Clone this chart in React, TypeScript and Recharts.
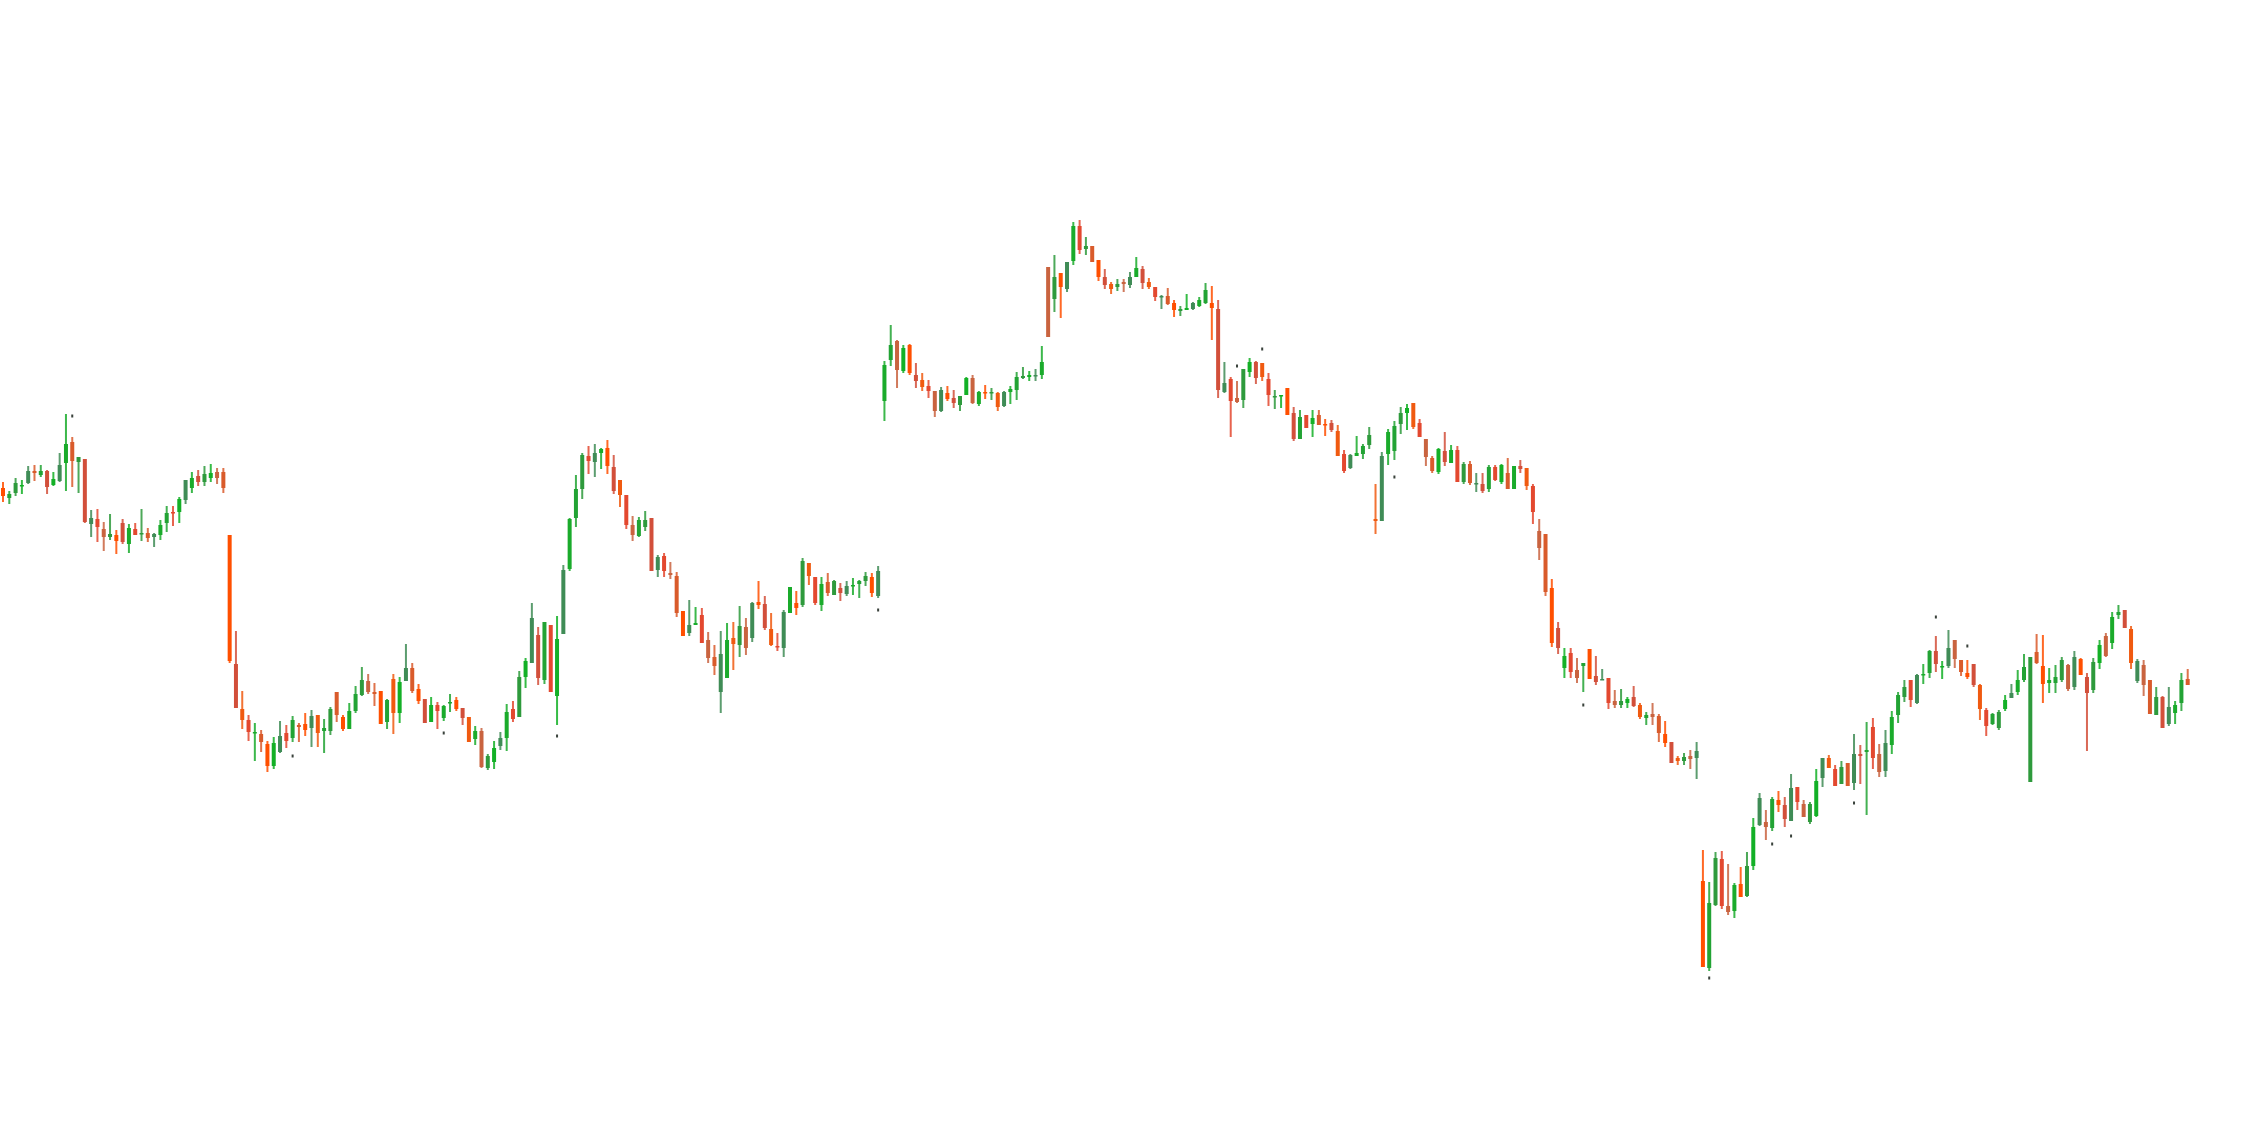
import { BarChart, Bar, XAxis, YAxis } from 'recharts';

// price, one entry per session (index = session number)
const open = [
  660, 650, 655, 662, 665, 677, 673, 677, 663, 667,
  685, 706, 686, 689, 624, 629, 619, 611, 613, 625,
  604, 619, 614, 615, 611, 613, 625, 636, 636, 648,
  660, 672, 666, 670, 676, 676, 613, 484, 439, 428,
  415, 414, 404, 382, 396, 415, 410, 423, 424, 420,
  433, 417, 417, 456, 431, 419, 437, 453, 467, 456,
  457, 426, 469, 435, 467, 480, 459, 449, 426, 443,
  430, 445, 448, 440, 431, 409, 417, 380, 386, 402,
  410, 439, 431, 471, 485, 513, 468, 523, 452, 514,
  579, 630, 659, 692, 686, 695, 700, 681, 668, 653,
  623, 612, 621, 630, 578, 592, 575, 572, 537, 515,
  523, 533, 508, 491, 456, 470, 510, 503, 521, 510,
  546, 544, 519, 502, 500, 535, 545, 543, 585, 571,
  543, 566, 553, 560, 554, 562, 564, 567, 571, 552,
  747, 788, 807, 777, 803, 773, 768, 762, 757, 737,
  755, 750, 743, 753, 770, 744, 756, 755, 755, 742,
  756, 758, 770, 771, 772, 773, 881, 849, 875, 859,
  887, 922, 899, 902, 888, 871, 864, 861, 866, 863,
  871, 879, 866, 861, 851, 852, 845, 837, 838, 839,
  842, 845, 845, 839, 756, 769, 750, 748, 776, 786,
  785, 769, 751, 752, 760, 735, 709, 733, 724, 733,
  724, 725, 717, 694, 680, 692, 694, 703, 629, 627,
  694, 697, 724, 735, 745, 725, 709, 690, 676, 697,
  685, 698, 666, 684, 664, 664, 659, 681, 666, 675,
  659, 682, 680, 662, 617, 614, 560, 520, 480, 495,
  478, 482, 499, 472, 468, 470, 447, 443, 445, 451,
  443, 430, 434, 432, 414, 406, 390, 387, 392, 390,
  267, 180, 243, 289, 242, 237, 264, 252, 282, 323,
  326, 320, 348, 343, 327, 361, 344, 326, 332, 370,
  390, 379, 364, 385, 365, 394, 396, 421, 394, 377,
  403, 433, 451, 468, 445, 473, 475, 497, 481, 482,
  508, 488, 475, 484, 463, 438, 424, 420, 439, 450,
  456, 468, 366, 496, 482, 465, 465, 468, 483, 461,
  489, 471, 458, 485, 512, 505, 533, 538, 519, 467,
  483, 468, 433, 451, 424, 435, 445, 469,
];

const high = [
  666, 657, 670, 668, 682, 683, 683, 678, 676, 695,
  734, 711, 691, 689, 638, 639, 626, 634, 618, 629,
  624, 625, 639, 620, 615, 628, 642, 642, 651, 668,
  676, 678, 682, 684, 680, 680, 613, 517, 457, 433,
  425, 418, 407, 411, 427, 423, 432, 425, 435, 438,
  433, 429, 441, 456, 433, 445, 462, 481, 474, 465,
  457, 449, 474, 471, 504, 485, 464, 449, 451, 446,
  443, 454, 451, 440, 431, 422, 420, 394, 407, 416,
  444, 447, 477, 490, 545, 521, 526, 523, 532, 583,
  630, 673, 695, 702, 704, 700, 708, 693, 668, 653,
  632, 631, 637, 630, 593, 595, 586, 576, 537, 548,
  541, 540, 516, 503, 517, 525, 526, 542, 530, 546,
  567, 552, 535, 515, 538, 561, 557, 590, 585, 571,
  571, 575, 568, 565, 567, 570, 568, 576, 575, 582,
  787, 823, 808, 803, 804, 785, 775, 768, 757, 761,
  762, 758, 752, 771, 773, 757, 763, 760, 756, 757,
  762, 776, 781, 777, 779, 802, 881, 893, 875, 886,
  926, 928, 911, 902, 888, 879, 866, 869, 869, 876,
  891, 882, 870, 861, 853, 860, 848, 842, 854, 846,
  851, 865, 862, 848, 786, 771, 767, 779, 790, 787,
  785, 775, 758, 753, 760, 741, 738, 733, 738, 738,
  729, 728, 723, 698, 694, 712, 704, 721, 664, 696,
  719, 727, 741, 744, 745, 729, 709, 692, 700, 716,
  703, 702, 686, 687, 675, 675, 683, 683, 684, 690,
  682, 688, 680, 664, 629, 614, 569, 526, 500, 500,
  490, 485, 499, 492, 479, 470, 458, 459, 451, 462,
  445, 436, 445, 434, 427, 406, 392, 395, 398, 406,
  298, 266, 296, 297, 284, 265, 281, 296, 330, 355,
  338, 351, 357, 351, 374, 361, 348, 346, 379, 390,
  393, 383, 387, 385, 414, 403, 426, 430, 404, 418,
  437, 456, 468, 468, 474, 484, 498, 512, 487, 518,
  508, 488, 488, 484, 464, 440, 435, 438, 453, 464,
  478, 494, 491, 514, 513, 480, 483, 491, 484, 497,
  490, 475, 490, 508, 515, 536, 543, 538, 522, 489,
  488, 468, 461, 452, 461, 447, 475, 479,
];

const low = [
  646, 644, 652, 654, 664, 667, 671, 654, 662, 666,
  657, 661, 655, 625, 611, 606, 597, 608, 594, 604,
  595, 613, 607, 606, 601, 608, 616, 622, 625, 644,
  655, 662, 662, 666, 664, 655, 485, 440, 419, 407,
  387, 396, 376, 379, 395, 400, 406, 406, 412, 401,
  401, 395, 413, 426, 417, 419, 435, 452, 454, 442,
  424, 419, 414, 425, 467, 455, 444, 425, 426, 419,
  427, 436, 437, 423, 406, 403, 380, 378, 379, 398,
  397, 426, 431, 460, 485, 463, 464, 456, 423, 514,
  577, 621, 649, 674, 671, 679, 674, 654, 641, 619,
  607, 611, 617, 577, 571, 571, 569, 531, 512, 512,
  523, 505, 485, 473, 435, 470, 478, 491, 493, 506,
  539, 518, 502, 497, 491, 535, 533, 541, 563, 543,
  537, 552, 553, 547, 552, 553, 550, 562, 551, 550,
  727, 782, 760, 775, 773, 760, 757, 750, 731, 736,
  747, 740, 737, 753, 744, 742, 749, 748, 737, 741,
  744, 748, 769, 767, 767, 769, 811, 836, 830, 856,
  883, 894, 893, 886, 867, 859, 854, 857, 856, 860,
  871, 859, 859, 847, 839, 843, 831, 832, 838, 838,
  841, 844, 808, 750, 755, 711, 745, 740, 771, 764,
  767, 742, 739, 740, 733, 707, 709, 720, 711, 723,
  712, 716, 692, 675, 679, 692, 689, 699, 614, 627,
  683, 688, 714, 718, 719, 711, 682, 675, 674, 682,
  685, 666, 664, 663, 656, 655, 656, 667, 664, 659,
  659, 675, 658, 624, 588, 552, 501, 494, 470, 470,
  465, 456, 469, 463, 468, 439, 440, 440, 440, 441,
  429, 423, 423, 406, 401, 385, 383, 383, 379, 369,
  181, 177, 242, 239, 233, 230, 251, 251, 278, 322,
  308, 317, 336, 321, 327, 338, 331, 324, 331, 361,
  380, 362, 364, 362, 358, 364, 333, 379, 371, 371,
  394, 425, 446, 441, 444, 464, 470, 476, 469, 480,
  480, 472, 469, 461, 428, 412, 423, 418, 437, 450,
  453, 466, 366, 484, 445, 455, 455, 466, 457, 458,
  473, 397, 455, 479, 491, 499, 529, 520, 479, 465,
  452, 434, 433, 420, 422, 424, 437, 463,
];

const close = [
  652, 654, 665, 663, 677, 675, 677, 661, 669, 683,
  704, 687, 691, 626, 630, 621, 611, 614, 607, 606,
  620, 613, 615, 610, 614, 623, 635, 635, 649, 668,
  670, 666, 674, 675, 670, 660, 487, 440, 428, 416,
  416, 406, 382, 405, 412, 407, 428, 421, 418, 432,
  415, 420, 439, 433, 419, 437, 454, 468, 456, 454,
  424, 448, 435, 466, 480, 457, 447, 425, 443, 437,
  442, 446, 439, 430, 406, 417, 381, 392, 400, 410,
  436, 429, 471, 487, 530, 470, 526, 456, 509, 578,
  629, 659, 693, 687, 695, 699, 682, 657, 653, 623,
  613, 628, 628, 577, 591, 577, 573, 535, 512, 523,
  525, 505, 490, 482, 494, 508, 504, 522, 500, 545,
  543, 520, 503, 501, 536, 561, 540, 587, 572, 545,
  564, 555, 567, 555, 562, 563, 567, 572, 555, 577,
  783, 803, 778, 800, 775, 767, 761, 757, 737, 758,
  749, 745, 752, 770, 745, 756, 755, 756, 741, 756,
  759, 771, 772, 773, 773, 786, 811, 871, 861, 886,
  922, 898, 902, 886, 871, 863, 859, 864, 864, 871,
  880, 865, 861, 851, 852, 844, 838, 839, 840, 845,
  848, 858, 840, 758, 765, 747, 746, 779, 786, 770,
  771, 753, 752, 753, 733, 709, 731, 720, 730, 723,
  723, 718, 692, 677, 693, 695, 702, 713, 627, 692,
  716, 722, 735, 740, 721, 711, 691, 677, 699, 686,
  698, 666, 684, 665, 665, 657, 681, 668, 683, 659,
  682, 679, 662, 636, 600, 556, 505, 500, 492, 476,
  470, 485, 469, 466, 469, 445, 443, 447, 449, 442,
  431, 433, 431, 415, 405, 385, 387, 391, 389, 397,
  181, 245, 290, 242, 236, 263, 251, 282, 321, 350,
  321, 349, 343, 329, 360, 346, 331, 344, 367, 390,
  380, 362, 381, 362, 394, 392, 398, 390, 376, 405,
  431, 453, 461, 448, 473, 474, 497, 484, 482, 500,
  489, 476, 471, 463, 439, 422, 434, 436, 448, 455,
  468, 481, 491, 485, 464, 468, 471, 488, 459, 491,
  473, 455, 486, 503, 492, 531, 536, 520, 485, 487,
  463, 434, 451, 420, 441, 443, 468, 463,
];

// stray single ticks seen away from the candles
const strayIndex = [11, 46, 70, 88, 139, 196, 200, 221, 251, 271, 281, 284, 294, 307, 312];
const strayValue = [732, 392, 415, 412, 538, 782, 799, 671, 443, 170, 304, 312, 345, 531, 502];

const UP = ['#1aab2b', '#2e9a3c', '#3f8c56', '#22a334', '#13b026'];
const DOWN = ['#ff4f00', '#d95b2b', '#c9633f', '#e3482f', '#f05a10', '#d24f3a'];

const data = open.map((o, i) => {
  const s = strayIndex.indexOf(i);
  return {
    i,
    open: o,
    high: high[i],
    low: low[i],
    close: close[i],
    stray: s >= 0 ? strayValue[s] : null,
  };
});

function Candle(props: any) {
  const { x, y, width, height, payload } = props;
  if (!payload || height == null) return null;
  const { open, high, low, close, stray, i } = payload;
  const ppu = height / (high - low || 1);
  const toY = (v: number) => y + (high - v) * ppu;
  const up = close >= open;
  const color = up ? UP[(i * 3) % UP.length] : DOWN[(i * 5) % DOWN.length];
  const cx = x + width / 2;
  const top = toY(Math.max(open, close));
  const bot = toY(Math.min(open, close));
  return (
    <g>
      <rect x={cx - 1} y={y} width={2} height={Math.max(height, 1)} fill={color} opacity={0.85} />
      <rect x={x} y={top} width={width} height={Math.max(bot - top, 1.5)} fill={color} />
      {stray != null && (
        <rect x={cx - 1} y={toY(stray) - 1.5} width={2} height={3} fill="#3a423c" />
      )}
    </g>
  );
}

export default function App() {
  return (
    <div style={{ position: 'absolute', left: 0, top: 0, width: 2268, height: 1148, background: '#fff' }}>
      <BarChart
        width={2191}
        height={1148}
        data={data}
        margin={{ top: 0, right: 0, bottom: 0, left: 0 }}
        barCategoryGap={0}
      >
        <XAxis dataKey="i" hide />
        <YAxis type="number" domain={[0, 1148]} hide allowDataOverflow />
        <Bar
          dataKey={(d: any) => [d.low, d.high]}
          barSize={4}
          shape={<Candle />}
          isAnimationActive={false}
        />
      </BarChart>
    </div>
  );
}
